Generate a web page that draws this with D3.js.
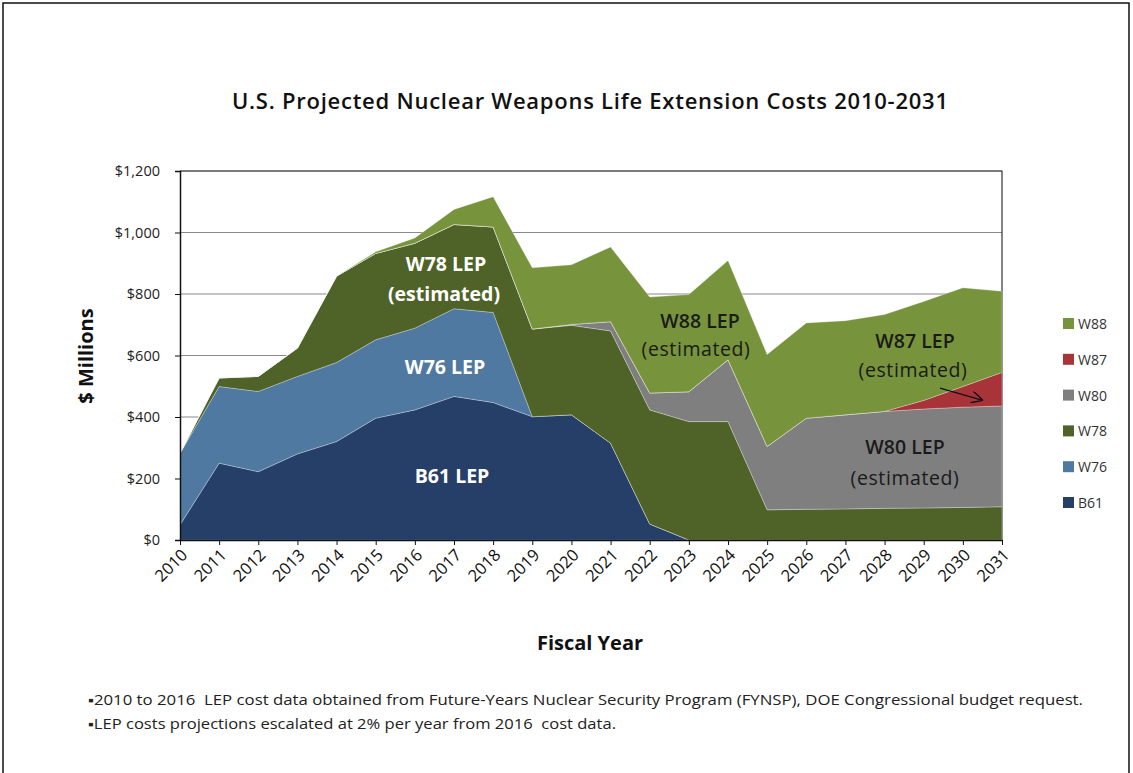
<!DOCTYPE html>
<html>
<head>
<meta charset="utf-8">
<script src="https://cdn.jsdelivr.net/npm/d3@7"></script>
<style>
  body { margin: 0; background: #fff; }
  svg { display: block; font-family: "Open Sans", sans-serif; }
</style>
</head>
<body>
<svg id="chart" width="1133" height="773"></svg>
<script>
// values, $ millions per fiscal year
const years = ["2010", "2011", "2012", "2013", "2014", "2015", "2016", "2017", "2018", "2019", "2020",
  "2021", "2022", "2023", "2024", "2025", "2026", "2027", "2028", "2029", "2030", "2031"]
const b61 = [49, 250, 222, 280, 320, 396, 423, 467, 447, 401, 407, 315, 52, 0, 0, 0, 0, 0, 0, 0, 0, 0]
const w76 = [233, 249, 261, 252, 257, 255, 266, 285, 293, 0, 0, 0, 0, 0, 0, 0, 0, 0, 0, 0, 0, 0]
const w78 = [0, 28, 49, 92, 281, 281, 276, 274, 278, 285, 291, 365, 371, 385, 385, 98, 100, 101, 103, 104, 106, 108]
const w80 = [0, 0, 0, 0, 0, 0, 0, 0, 0, 0, 3, 30, 55, 97, 201, 206, 296, 306, 315, 322, 326, 328]
const w87 = [0, 0, 0, 0, 0, 0, 0, 0, 0, 0, 0, 0, 0, 0, 0, 0, 0, 0, 0, 28, 67, 109]
const w88 = [0, 0, 0, 0, 0, 5, 17, 49, 98, 199, 194, 243, 312, 316, 323, 299, 310, 306, 315, 322, 321, 264]

const seriesNames = ["B61", "W76", "W78", "W80", "W87", "W88"]
const seriesColors = ["#263f69", "#5079a2", "#4f6228", "#7f7f7f", "#a8343a", "#77933c"]
const yTicks = [0, 200, 400, 600, 800, 1000, 1200]
const footnotes = [
  "\u25AA2010 to 2016  LEP cost data obtained from Future-Years Nuclear Security Program (FYNSP), DOE Congressional budget request.",
  "\u25AALEP costs projections escalated at 2% per year from 2016  cost data."
]

const svg = d3.select("#chart")

// outer frame
svg.append("rect")
  .attr("x", 3).attr("y", 3)
  .attr("width", 1126).attr("height", 780)
  .attr("fill", "none")
  .attr("stroke", "#111")
  .attr("stroke-width", 1.5)

const plot = { left: 180, right: 1002, top: 171, bottom: 540 }

const x = d3.scalePoint()
  .domain(years)
  .range([plot.left, plot.right])

const y = d3.scaleLinear()
  .domain([0, 1200])
  .range([plot.bottom, plot.top])

const rows = years.map(function (yr, i) {
  return { year: yr, B61: b61[i], W76: w76[i], W78: w78[i], W80: w80[i], W87: w87[i], W88: w88[i] }
})
const stacked = d3.stack().keys(seriesNames)(rows)

// gridlines
svg.append("g")
  .selectAll("line")
  .data(yTicks.filter(function (d) { return d > 0 }))
  .enter()
  .append("line")
  .attr("x1", plot.left).attr("x2", plot.right)
  .attr("y1", function (d) { return y(d) }).attr("y2", function (d) { return y(d) })
  .attr("stroke", "#8a8a8a")
  .attr("stroke-width", 1.2)

// plot border (top / right)
svg.append("path")
  .attr("d", "M" + plot.left + "," + plot.top + "H" + plot.right + "V" + plot.bottom)
  .attr("fill", "none")
  .attr("stroke", "#333")
  .attr("stroke-width", 1.2)

const area = d3.area()
  .x(function (d) { return x(d.data.year) })
  .y0(function (d) { return y(d[0]) })
  .y1(function (d) { return y(d[1]) })

svg.append("g")
  .selectAll("path")
  .data(stacked)
  .enter()
  .append("path")
  .attr("d", area)
  .attr("fill", function (d, i) { return seriesColors[i] })
  .attr("stroke", "rgba(255,255,255,0.35)")
  .attr("stroke-width", 0.8)
  .attr("stroke-linejoin", "round")

// y axis
const yAxis = svg.append("g")
  .attr("transform", "translate(" + plot.left + ",0)")
  .call(d3.axisLeft(y).tickValues(yTicks).tickSize(5).tickPadding(15)
    .tickFormat(function (d) { return "$" + d3.format(",")(d) }))
yAxis.attr("font-family", null).attr("font-size", null)
yAxis.select(".domain").attr("stroke", "#111").attr("stroke-width", 1.5)
yAxis.selectAll(".tick line").attr("stroke", "#111")
yAxis.selectAll("text")
  .style("font-size", "14.5px")
  .attr("fill", "#222")

// x axis
const xAxis = svg.append("g")
  .attr("transform", "translate(0," + plot.bottom + ")")
  .call(d3.axisBottom(x).tickSize(5).tickSizeOuter(0))
xAxis.attr("font-family", null).attr("font-size", null)
xAxis.select(".domain").attr("stroke", "#111").attr("stroke-width", 1.5)
xAxis.selectAll(".tick line").attr("stroke", "#111")
xAxis.selectAll("text")
  .style("font-size", "16.5px")
  .attr("fill", "#111")
  .attr("text-anchor", "end")
  .attr("dy", null)
  .attr("y", 0)
  .attr("transform", "translate(8,16) rotate(-45)")

// titles
svg.append("text")
  .attr("x", 590).attr("y", 109)
  .attr("text-anchor", "middle")
  .style("font-size", "22px")
  .style("font-weight", "600")
  .attr("fill", "#111")
  .attr("textLength", 716)
  .attr("lengthAdjust", "spacing")
  .text("U.S. Projected Nuclear Weapons Life Extension Costs 2010-2031")

svg.append("text")
  .attr("transform", "translate(93,356) rotate(-90)")
  .attr("text-anchor", "middle")
  .style("font-size", "20px")
  .style("font-weight", "bold")
  .attr("fill", "#111")
  .text("$ Millions")

svg.append("text")
  .attr("x", 590).attr("y", 650)
  .attr("text-anchor", "middle")
  .style("font-size", "20px")
  .style("font-weight", "bold")
  .attr("fill", "#111")
  .text("Fiscal Year")

// in-chart labels
const labels = [
  { t: "W78 LEP", x: 446, y: 271, c: "#fff", w: "bold" },
  { t: "(estimated)", x: 444, y: 301, c: "#fff", w: "bold" },
  { t: "W76 LEP", x: 445, y: 374, c: "#fff", w: "bold" },
  { t: "B61 LEP", x: 452, y: 483, c: "#fff", w: "bold" },
  { t: "W88 LEP", x: 700, y: 328, c: "#1a1a1a", w: "600" },
  { t: "(estimated)", x: 696, y: 356, c: "#1a1a1a", w: "normal" },
  { t: "W87 LEP", x: 915, y: 348, c: "#1a1a1a", w: "600" },
  { t: "(estimated)", x: 913, y: 377, c: "#1a1a1a", w: "normal" },
  { t: "W80 LEP", x: 905, y: 454, c: "#1a1a1a", w: "600" },
  { t: "(estimated)", x: 905, y: 485, c: "#1a1a1a", w: "normal" }
]
svg.append("g")
  .selectAll("text")
  .data(labels)
  .enter()
  .append("text")
  .attr("x", function (d) { return d.x })
  .attr("y", function (d) { return d.y })
  .attr("text-anchor", "middle")
  .style("font-size", "19.5px")
  .style("font-weight", function (d) { return d.w })
  .style("letter-spacing", function (d) { return d.w == "normal" ? "0.6px" : null })
  .attr("fill", function (d) { return d.c })
  .text(function (d) { return d.t })

// arrow pointing to W87 wedge
svg.append("defs").append("marker")
  .attr("id", "arrow")
  .attr("viewBox", "0 0 10 10")
  .attr("refX", 9).attr("refY", 5)
  .attr("markerWidth", 9).attr("markerHeight", 9)
  .attr("orient", "auto")
  .append("path")
  .attr("d", "M0,0L10,5L0,10")
  .attr("fill", "none")
  .attr("stroke", "#111")
  .attr("stroke-width", 1.2)
svg.append("line")
  .attr("x1", 940).attr("y1", 388)
  .attr("x2", 982).attr("y2", 400)
  .attr("stroke", "#111")
  .attr("stroke-width", 1.3)
  .attr("marker-end", "url(#arrow)")

// legend (top to bottom: W88 ... B61)
const legendOrder = seriesNames.slice().reverse()
const legend = svg.append("g")
const legendItem = legend.selectAll("g")
  .data(legendOrder)
  .enter()
  .append("g")
  .attr("transform", function (d, i) { return "translate(1063," + (318 + i * 35.8) + ")" })
legendItem.append("rect")
  .attr("width", 11).attr("height", 11)
  .attr("fill", function (d) { return seriesColors[seriesNames.indexOf(d)] })
legendItem.append("text")
  .attr("x", 15).attr("y", 11)
  .style("font-size", "14px")
  .attr("fill", "#333")
  .text(function (d) { return d })

// footnotes
svg.append("g")
  .selectAll("text")
  .data(footnotes)
  .enter()
  .append("text")
  .attr("x", 88)
  .attr("y", function (d, i) { return 705 + i * 24 })
  .style("font-size", "14px")
  .style("white-space", "pre")
  .attr("fill", "#222")
  .attr("textLength", function (d, i) { return i == 0 ? 995 : 528 })
  .attr("lengthAdjust", "spacingAndGlyphs")
  .text(function (d) { return d })
</script>
</body>
</html>
